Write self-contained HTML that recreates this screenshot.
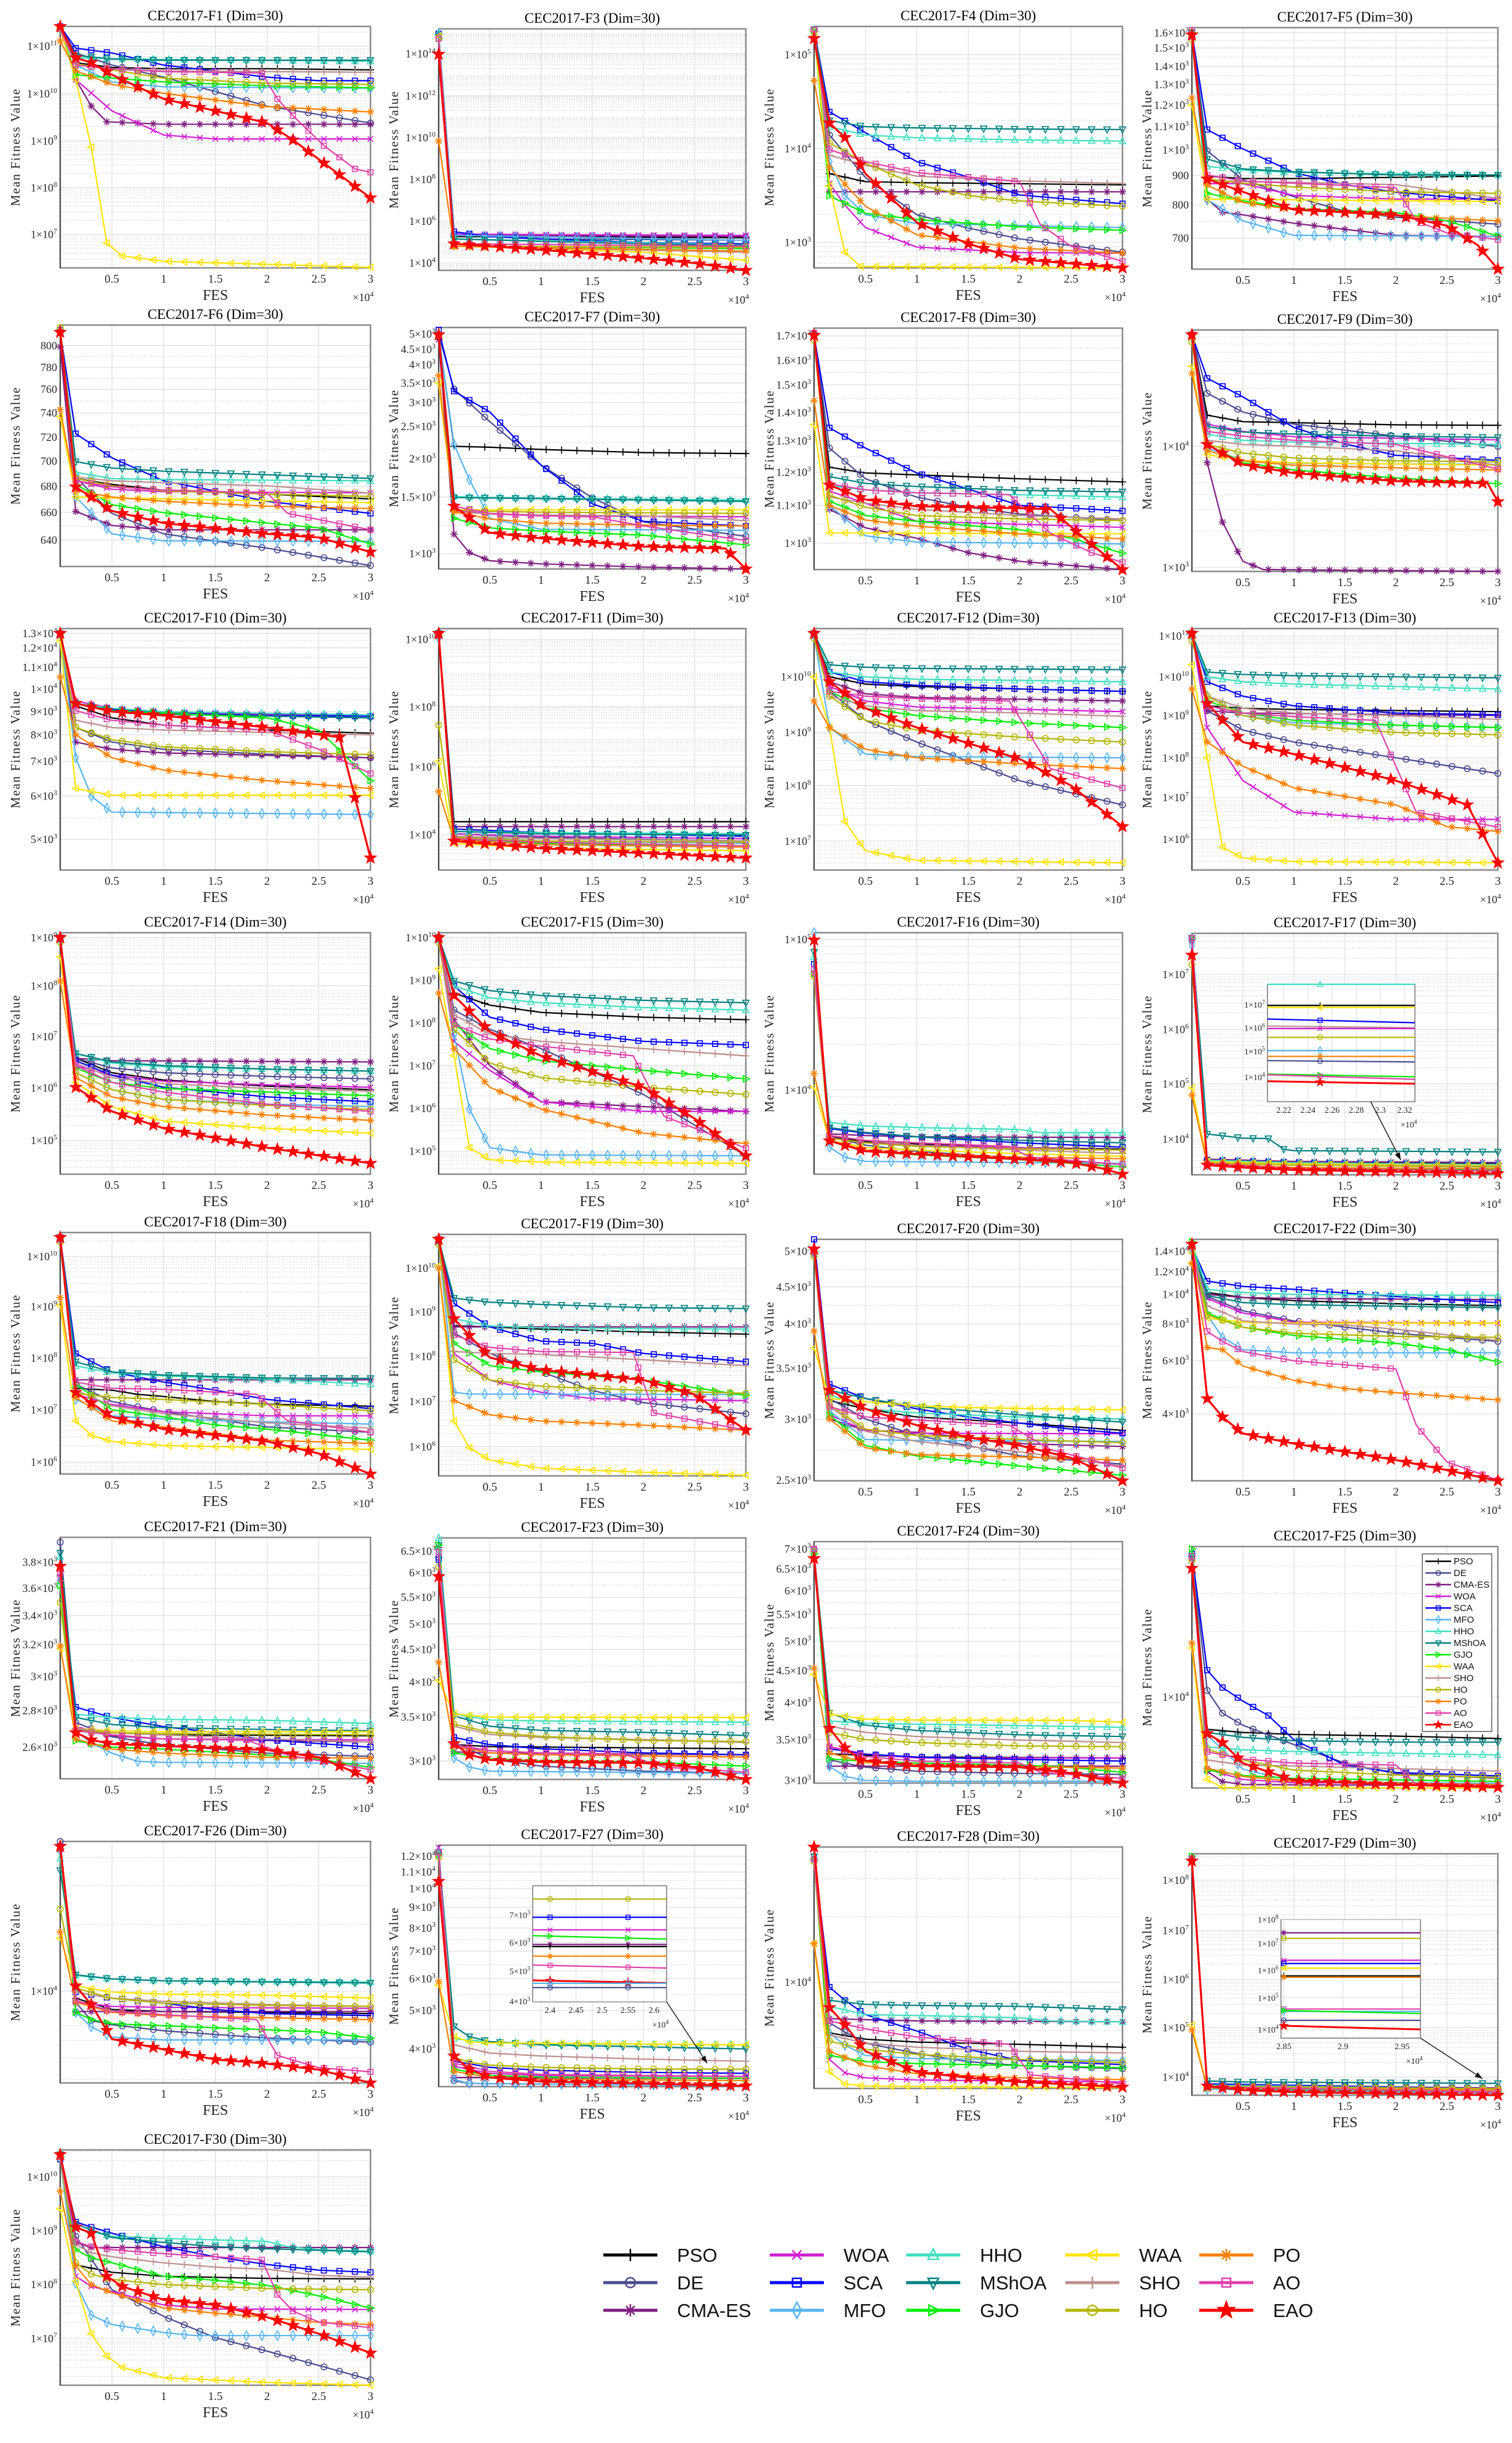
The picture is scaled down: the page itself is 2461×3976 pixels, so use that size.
<!DOCTYPE html>
<html><head><meta charset="utf-8"><title>CEC2017 convergence curves</title>
<style>
html,body{margin:0;padding:0;background:#fff;}
svg{display:block;}
</style></head>
<body>
<svg id="fig" xmlns="http://www.w3.org/2000/svg" width="2461" height="3976" viewBox="0 0 2461 3976">
<rect x="0" y="0" width="2461" height="3976" fill="#ffffff"/>
</svg>
<script>
// ---------- series definitions ----------
const seriesNames = ['PSO','DE','CMA-ES','WOA','SCA','MFO','HHO','MShOA','GJO','WAA','SHO','HO','PO','AO','EAO'];
const seriesColors = ['#000000','#4b4b8f','#7e1e80','#d21fd2','#0000ff','#56b4f0','#3fe0c0','#008080','#00ee00','#ffe400','#bc8f8f','#b5b500','#ff8000','#e040a8','#ff0000'];
const seriesMarkers = ['+','o','*','x','s','d','^','v','>','<','+','o','*','s','p'];

// ---------- plots ----------
const plotTitles = ['CEC2017-F1 (Dim=30)','CEC2017-F3 (Dim=30)','CEC2017-F4 (Dim=30)','CEC2017-F5 (Dim=30)',
'CEC2017-F6 (Dim=30)','CEC2017-F7 (Dim=30)','CEC2017-F8 (Dim=30)','CEC2017-F9 (Dim=30)',
'CEC2017-F10 (Dim=30)','CEC2017-F11 (Dim=30)','CEC2017-F12 (Dim=30)','CEC2017-F13 (Dim=30)',
'CEC2017-F14 (Dim=30)','CEC2017-F15 (Dim=30)','CEC2017-F16 (Dim=30)','CEC2017-F17 (Dim=30)',
'CEC2017-F18 (Dim=30)','CEC2017-F19 (Dim=30)','CEC2017-F20 (Dim=30)','CEC2017-F22 (Dim=30)',
'CEC2017-F21 (Dim=30)','CEC2017-F23 (Dim=30)','CEC2017-F24 (Dim=30)','CEC2017-F25 (Dim=30)',
'CEC2017-F26 (Dim=30)','CEC2017-F27 (Dim=30)','CEC2017-F28 (Dim=30)','CEC2017-F29 (Dim=30)',
'CEC2017-F30 (Dim=30)'];

// x axis: FES (x10^4)
const xTickValues = [0.5,1,1.5,2,2.5,3];
const xTickLabels = ['0.5','1','1.5','2','2.5','3'];

// y axis: tick values on normalized log-level scale (0 = axis bottom, 100 = axis top)
const yTickLevels = [
[91.8,72.1,52.6,33.2,13.9],[89.7,72.3,55,37.6,20.3,3],[88.3,49.4,10.6],[97.9,91.6,84,76.4,68,59,49.4,38.8,26.6,12.8],
[91.5,82.5,73.4,63.6,53.5,43.6,33.2,22.4,11],[97.3,91,84.6,77,68.9,59,45.7,29.8,6.3],[96.8,86.6,76.5,65,53.3,40.3,26.6,11],[51.8,1.7],
[98,92,84,75,65.6,56,45,30.6,12.7],[95.5,67.5,42.7,14.6],[80,57,35,12],[97,80,64,46.5,30,12.7],
[98,78,57,35.7,14],[98,80.3,62.6,44.9,27.2,9.5],[97.2,34.9],[83,60.2,37.6,14.8],
[90.1,69.4,48.1,26.6,5],[86,68,49.5,30.8,12.1],[95,80.3,65,46.6,25.4,0.2],[95,86.6,77.2,65,49.7,27.7],
[89.7,78.9,67.6,55.6,42.4,28.2,13.1],[94.5,85.6,75.4,64.4,53.8,40.3,25.8,7.6],[97,88.7,79.6,69.9,58.7,46.6,33.3,18,1.1],[37.7],
[38],[95.4,88.9,82,74.3,65.7,56.1,44.7,31.5,15.6],[44],[89,68.2,48,28,7.5],
[88.5,65.7,42.8,19.9]];
const yTickLabels = [
['1×10^11','1×10^10','1×10^9','1×10^8','1×10^7'],['1×10^14','1×10^12','1×10^10','1×10^8','1×10^6','1×10^4'],['1×10^5','1×10^4','1×10^3'],['1.6×10^3','1.5×10^3','1.4×10^3','1.3×10^3','1.2×10^3','1.1×10^3','1×10^3','900','800','700'],
['800','780','760','740','720','700','680','660','640'],['5×10^3','4.5×10^3','4×10^3','3.5×10^3','3×10^3','2.5×10^3','2×10^3','1.5×10^3','1×10^3'],['1.7×10^3','1.6×10^3','1.5×10^3','1.4×10^3','1.3×10^3','1.2×10^3','1.1×10^3','1×10^3'],['1×10^4','1×10^3'],
['1.3×10^4','1.2×10^4','1.1×10^4','1×10^4','9×10^3','8×10^3','7×10^3','6×10^3','5×10^3'],['1×10^10','1×10^8','1×10^6','1×10^4'],['1×10^10','1×10^9','1×10^8','1×10^7'],['1×10^11','1×10^10','1×10^9','1×10^8','1×10^7','1×10^6'],
['1×10^9','1×10^8','1×10^7','1×10^6','1×10^5'],['1×10^10','1×10^9','1×10^8','1×10^7','1×10^6','1×10^5'],['1×10^5','1×10^4'],['1×10^7','1×10^6','1×10^5','1×10^4'],
['1×10^10','1×10^9','1×10^8','1×10^7','1×10^6'],['1×10^10','1×10^9','1×10^8','1×10^7','1×10^6'],['5×10^3','4.5×10^3','4×10^3','3.5×10^3','3×10^3','2.5×10^3'],['1.4×10^4','1.2×10^4','1×10^4','8×10^3','6×10^3','4×10^3'],
['3.8×10^3','3.6×10^3','3.4×10^3','3.2×10^3','3×10^3','2.8×10^3','2.6×10^3'],['6.5×10^3','6×10^3','5.5×10^3','5×10^3','4.5×10^3','4×10^3','3.5×10^3','3×10^3'],['7×10^3','6.5×10^3','6×10^3','5.5×10^3','5×10^3','4.5×10^3','4×10^3','3.5×10^3','3×10^3'],['1×10^4'],
['1×10^4'],['1.2×10^4','1.1×10^4','1×10^4','9×10^3','8×10^3','7×10^3','6×10^3','5×10^3','4×10^3'],['1×10^4'],['1×10^8','1×10^7','1×10^6','1×10^5','1×10^4'],
['1×10^10','1×10^9','1×10^8','1×10^7']];
// levels per decade (0 = non-decade axis)
const decadeSpan = [19.5,8.7,38.9,0, 0,0,0,50.1, 0,13.6,22.7,16.9, 21,17.7,62.3,22.7, 21.2,18.5,0,0, 0,0,0,90, 91.8,0,89.8,20.4, 22.9];

// curves: "FES(x10^4):level" pairs, series order = seriesNames
const curves = [
[ // F1
"0:100 .15:85 .5:83 1:82.5 2:82.5 3:82","0:100 .15:89 .5:84 1:79 2:67 3:60","0:99 .15:78 .3:67 .45:60.5 1:59.5 3:59.5","0:99 .15:78 .5:65 1:55 1.5:53.4 3:53.4","0:100 .15:91 .5:89 1:84 2:79 2.5:77.5 3:77.5","0:99 .15:84 .5:77 1:75 3:74.4","0:99 .15:87 .5:86.7 1:86.3 3:85.6","0:99 .15:88 .5:86.5 1:86 3:86","0:99 .15:80 .5:78.6 1:77 2:75.4 3:74.6","0:99 .15:78 .3:50 .45:10.3 .6:5 1:2.7 2:1.5 3:0.2","0:99 .15:84.5 .5:82.4 1:81.6 3:81","0:99 .15:84.5 .5:82 1:78.6 2:76.5 3:76","0:94 .15:81.6 .5:76 1:72.3 2:66.8 3:64.6","0:99 .15:84 .5:82.4 1:81.3 1.95:80.7 2.1:70 2.25:63 2.55:50.6 2.85:41 3:39.6","0:100 .15:87 .3:85 .5:80 1:70 1.5:65 2:60 2.25:53 2.5:45 2.75:37 3:29"],
[ // F3
"0:98 .15:14 3:13.5","0:98 .15:15 1:13 3:12.5","0:97 .15:14.5 3:14","0:97 .15:15 3:14.5","0:98 .15:16 .5:14 1:13 2:11.5 3:11","0:98 .15:14.5 3:12.5","0:98 .15:13 3:10.5","0:97 .15:13 1:12 2:11 3:10.3","0:96 .15:11 .5:10 3:9","0:97 .15:10 1:9 2:7.5 3:4.2","0:97 .15:10 3:7.5","0:96 .15:10 3:9.5","0:53.5 .15:10 3:8","0:96 .15:11 3:10","0:89.5 .15:11 .5:10 1:8.5 2:5 2.5:3 3:0"],
[ // F4
"0:98.7 .15:39 .5:35.7 1:35.3 3:34.4","0:98.7 .15:55 .5:37.4 1:22 1.5:16.5 2:12 3:6.5","0:98.7 .15:31.5 3:31.5","0:98.7 .15:35 .3:26 .5:16.7 1:8.6 2:6.3 3:6.1","0:98.7 .15:64.6 .5:56 1:44 1.5:37.6 2:30.2 3:26.6","0:98 .15:44 .3:30 .5:22 1:18.4 3:16.7","0:98.7 .15:58.5 .5:55 1:53.9 2:53 3:52.5","0:98.7 .15:61 .5:58.5 1:58 2:57.5 3:57.3","0:98 .15:29.8 .5:22.6 1:20 2:17 3:15.6","0:98 .15:34 .3:6.5 .45:0.6 3:0","0:98 .15:46.7 .5:42.5 1:38 2:36 3:35","0:96 .15:51.8 .5:43.3 1:34.4 1.5:30 2:27.7 3:25.5","0:77.6 .15:41.6 .5:25.5 1:13.7 2:8.2 3:6.1","0:98.7 .15:49 .5:44 1:39.5 2:35.7 2.2:18 2.5:9 3:2.7","0:95 .15:60 .3:54 .5:39 1:18.8 1.5:10 2:3.6 3:0"],
[ // F5
"0:98 .15:38.5 .5:37.5 1:37.5 2:38 3:38.6","0:98 .15:49 .5:37 1:30 1.5:24 2:21.5 3:18.6","0:96 .15:29 .3:23.5 .5:22.5 1:19 2:14 3:13.5","0:97 .15:35.4 .5:35.4 1:30.5 2:29 3:29","0:98 .15:57.8 .5:49.8 1:40 1.5:35 2:31.8 3:28.3","0:97 .15:28.7 .5:20 1:14 3:13.5","0:98 .15:42.6 .5:41 1:40 2:39.5 3:39","0:98 .15:45.6 .5:41.5 1:40.3 2:39 3:39","0:98 .15:31.4 .5:28.3 1:25 2:23.4 2.5:20 3:13.7","0:68 .15:29 3:28","0:97 .15:36.7 .5:36.3 1:35.9 2:35 3:29.3","0:95 .15:37.3 .5:35.6 1:34 2:32 3:31.4","0:70.9 .15:34.8 .5:27.6 1:24.6 2:22.1 3:20","0:99 .15:39 .5:36.5 1:35.6 2:33.7 2.2:20 2.5:15 3:12.2","0:97 .15:37.3 .5:32 1:24.6 2:22.5 2.5:18 2.8:10 3:0"],
[ // F6
"0:98 .15:36.4 .5:34 1:31.6 2:30 3:28","0:98 .15:37 .5:22 1:13.5 2:7.6 3:0.4","0:91 .15:22.8 .5:17 1:15.2 3:15.2","0:97 .15:35.5 .5:32 1:31 3:30.5","0:97 .15:55 .5:45 1:35.5 2:27 3:22","0:97 .15:28.8 .5:13.5 1:10.6 3:10.4","0:97 .15:39 .5:36.4 1:36 3:35.5","0:97 .15:43.4 .5:40.8 1:39.5 2:38 3:36.5","0:97 .15:34 .5:25.6 1:22.3 2:18 2.5:16 3:9.3","0:62 .15:28.8 .5:28.4 3:26.4","0:97 .15:37 .5:35.5 1:34.7 2:33.4 3:30.4","0:99 .15:36.4 .5:33.4 1:31.3 2:30 3:29","0:65 .15:31.4 .5:28.8 1:27 2:25 3:24","0:97 .15:35.5 .5:33 1:31.7 2:30.4 2.2:22 3:15.2","0:97 .15:33 .5:23 1:18 2:13.5 2.5:12 3:6"],
[ // F7
"0:97 .15:50.8 .5:50.4 1:49.5 2:48.2 3:47.8","0:97 .15:74.5 .5:61 1:43 1.5:29.5 2:19.5 3:13.5","0:95 .15:14.4 .3:6.8 .5:3.4 1:2.1 2:0.8 3:0","0:97 .15:24.5 .5:22.8 1:22 3:21.6","0:99 .15:73.6 .5:65 1:43 1.5:27 2:19.7 3:17.8","0:97 .15:51.6 .3:37 .5:21 1:16.4 3:16","0:97 .15:30 .5:29.6 3:28.5","0:97 .15:29.6 3:28","0:97 .15:21 .5:17 1:15.7 2:14 3:10","0:77 .15:24.5 3:24.5","0:97 .15:23.7 .5:22.8 1:22.4 2:22 3:20","0:97 .15:24.5 .5:23.9 1:23.5 3:23","0:80 .15:23.7 .5:20.7 1:19 2:18.2 3:17.8","0:97 .15:26 .5:23 1:22 1.5:21.6 2:17.8 3:11.8","0:97 .15:26 .5:15 1:12.7 2:9.3 2.8:8.5 3:0"],
[ // F8
"0:97 .15:42.4 .5:40 1:39.2 2:37.6 3:36.3","0:97 .15:50.3 .5:37.6 1:30 1.5:25.8 2:23 3:20.3","0:98 .15:25 .5:17.3 1:13 1.5:7 2:3.4 3:0","0:97 .15:32.5 .5:27.5 1:20 3:17.5","0:97 .15:58.7 .5:50.3 1:40 1.5:33.3 2:26.6 3:24.3","0:97 .15:26.6 .5:14 1:11.4 3:10.6","0:97 .15:34.7 .5:33 1:31.8 2:31 3:30","0:97 .15:38.5 .5:35.7 1:34.4 2:32.8 3:32.2","0:97 .15:28.3 .5:22.4 1:20 2:16.5 2.5:13 3:6.8","0:60 .15:15.2 3:14.8","0:97 .15:30 .5:27.5 1:25 2:22.4 3:21","0:95 .15:30.8 .5:25.8 1:22.4 2:21 3:20.3","0:70 .15:26.6 .5:20.5 1:18 2:14.8 3:12.7","0:98 .15:35.5 .5:33 1:31.8 1.9:31 2.3:15 2.7:7 3:3","0:97 .15:35 .5:29 1:26.2 2:25.4 2.3:25 2.6:14 3:0"],
[ // F9
"0:98 .15:64.7 .5:62 1:61.6 2:60.7 3:60.5","0:98 .15:73.8 .5:66 1:61 2:56 3:51.8","0:98 .15:45 .3:20.4 .5:4.2 .7:0.8 3:0","0:98 .15:61 .5:58 1:55.8 3:54.5","0:98 .15:80 .5:72.3 1:59.6 1.5:52.8 2:48.1 3:46","0:98 .15:51 .5:46 1:44.8 3:44.3","0:98 .15:56.9 .5:54.3 1:53.5 3:52.6","0:98 .15:60 .5:57.7 1:56.9 2:56 3:55.5","0:98 .15:52.6 .5:45 1:42 2:38.7 3:36.3","0:85 .15:48.4 .5:46 1:45 3:44","0:98 .15:54.3 .5:52.6 1:51.8 2:50 3:44","0:95 .15:52.6 .5:49 1:47 2:45.8 3:45.4","0:82 .15:50 .5:45.8 1:44 2:42.9 3:42","0:98 .15:58 .5:56 1:54.3 2:52.6 3:42.4","0:98 .15:52.6 .5:44.3 1:40.7 2:37.4 2.9:36.5 3:28.9"],
[ // F10
"0:98 .15:68 .5:63 1:60 2:58 3:56.7","0:98 .15:59 .5:53 1:50 2:48 3:46.5","0:97 .15:53 .5:50 1:48.5 3:46.5","0:98 .15:70 .5:67 1:65.6 2:64.5 3:63.7","0:98 .15:69 .5:66.5 1:65 2:64 3:63.7","0:98 .15:46.5 .3:30.6 .5:24 3:23","0:98 .15:69 .5:67 1:65.6 3:64.3","0:98 .15:69 .5:66 1:64.5 3:63","0:98 .15:69 .5:66 1:65 2:63 2.5:58 3:37","0:95 .15:33.8 .5:31 3:31","0:98 .15:62 .5:59 1:58 3:56","0:98 .15:59 .5:54 1:51 2:49 3:47.8","0:80 .15:56 .5:46.5 1:41.4 2:37 3:33.8","0:98 .15:66 .5:62 1:60 2:58 2.5:50 3:40","0:98 .15:69 .5:65.6 1:64 2:59 2.7:55 3:5"],
[ // F11
"0:98 .15:20 3:20","0:98 .15:15 1:13.5 3:12","0:97 .15:18 3:18","0:97 .15:15 1:14 3:13","0:98 .15:17 1:15.5 3:14","0:96 .15:14 1:12 3:11","0:98 .15:16 1:15.5 3:15","0:98 .15:16 1:15 3:14.5","0:97 .15:13 1:11 3:10","0:45 .15:11 1:9 3:8","0:97 .15:14 1:13 3:12","0:60 .15:13.5 1:12 3:11.5","0:32.5 .15:12.5 1:10.5 3:9.5","0:97 .15:13 1:11.5 3:10","0:98 .15:12 1:9 2:7 3:5"],
[ // F12
"0:98 .15:80 .5:77 1:76 2:75 3:74","0:98 .15:74 .5:62 1:53 2:37 3:27","0:97 .15:78 .5:73 1:71.5 3:70","0:98 .15:76 .5:70 1:67.5 3:65.6","0:98 .15:82 .5:78 1:76.5 2:75 3:74","0:97 .15:59 .5:48 1:47 3:46.5","0:98 .15:82 .5:80 1:79 3:78","0:98 .15:85 .5:84 1:83.5 3:83","0:98 .15:74 .5:67 1:64 2:61 3:59","0:80 .15:59 .3:20 .5:8 1:4 3:3","0:98 .15:72 .5:68 1:66 2:65 3:63.7","0:96 .15:72 .5:62 1:58 2:55 3:53","0:70 .15:59 .5:50 1:46.5 2:44 3:42","0:98 .15:74 .5:72 1:71 1.9:70 2.3:42 3:34","0:98 .15:78 .5:67 1:59 2:46 2.5:35 3:18"],
[ // F13
"0:98 .15:68 .5:67 1:66.5 3:65.6","0:98 .15:66 .5:58 1:53 2:46.5 3:40","0:97 .15:66 .5:65 3:64","0:98 .15:59 .5:37 1:24 2:21 3:21","0:98 .15:78 .5:72 1:68 2:65 3:64.3","0:97 .15:72 .5:64 1:61 3:59","0:98 .15:80 .5:78 1:77 3:75","0:98 .15:82 .5:81 1:80.5 3:79.6","0:98 .15:70 .5:65 1:62 2:60 3:59","0:85 .15:46.5 .3:9.5 .5:5 1:3.5 3:3","0:98 .15:72 .5:67 1:65 2:64 3:62.4","0:95 .15:72 .5:64 1:60 2:57 3:56","0:75 .15:53 .5:43 1:34 2:27 2.5:18 3:16","0:98 .15:68 .5:65 1:63.5 1.8:62 2.2:24 3:17.8","0:98 .15:69 .5:53 1:48 2:37 2.7:27 3:3"],
[ // F14
"0:98 .15:48 .5:42 1:39 2:36.5 3:35","0:98 .15:48 .5:44 1:42 2:40.5 3:39.5","0:97 .15:48 .5:47 3:46.5","0:98 .15:45 .5:41 1:38.5 2:37 3:36","0:98 .15:47 .5:41 1:36 2:32 3:30","0:97 .15:42 .5:35 1:31 2:29 3:28","0:98 .15:50 .5:46 1:44.5 2:43.5 3:42.7","0:98 .15:50 .5:46.5 1:45 2:43.5 3:42.7","0:98 .15:44 .5:38 1:35.5 2:34 3:32.5","0:90 .15:38 .5:28 1:22 2:19 3:17","0:98 .15:46 .5:40 1:37.5 2:35.5 3:34.4","0:96 .15:42 .5:35 1:31 2:28.5 3:26.8","0:80 .15:40 .5:32 1:28 2:24.5 3:22.3","0:98 .15:45 .5:38 1:34 2:29 3:26","0:98 .15:36 .5:26 1:19 2:11 3:4.5"],
[ // F15
"0:98 .15:75 .5:70 1:67 2:65 3:64","0:98 .15:68 .5:60 1:52 2:33 3:7.6","0:97 .15:64 .5:45 1:30 3:26","0:98 .15:55 .5:43 1:30 2:26 3:26","0:98 .15:78 .5:65 1:60 2:55 3:53.5","0:97 .15:58 .3:27 .5:11 1:8 3:7.6","0:98 .15:78 .5:73 1:71 2:69 3:68","0:98 .15:80 .5:76 1:74 2:72 3:71","0:98 .15:62 .5:52 1:47 2:43 3:39.5","0:85 .15:49 .3:11 .5:6 1:5 3:4.5","0:98 .15:66 .5:58 1:55 2:52 3:49","0:96 .15:60 .5:46 1:40 2:36 3:33","0:75 .15:52 .5:36 1:27 2:17 3:12.7","0:98 .15:62 .5:56 1:53 1.9:49 2.2:24 3:10.8","0:98 .15:74 .5:59 1:49 2:36 2.5:23 3:7.6"],
[ // F16
"0:83 .15:15.5 .5:13.5 1:12.5 2:11 3:10.4","0:83 .15:15.5 .5:12 1:9.5 2:6.5 3:4","0:83 .15:16.7 .5:16 1:15.5 3:15.2","0:83 .15:15 .5:13 1:12 2:11 3:10","0:87 .15:18.9 .5:17 1:15.5 2:13 3:11.2","0:100 .15:11.2 .3:7 .5:5.3 3:4.5","0:90 .15:21.4 .5:20 1:19.3 2:18.5 2.2:17.2 3:17.2","0:92 .15:19.3 .5:17.3 1:15.5 2:14 3:13","0:83 .15:14.5 .5:9.5 1:8 2:6 2.5:4.5 3:3","0:36 .15:14 .5:11 1:10 2:8.5 3:7.4","0:83 .15:16 .5:14 1:12 2:10 3:8.6","0:82 .15:15 .5:13 1:11.5 2:10.5 3:10","0:41.7 .15:14 .5:10 1:8.5 2:7 3:6.4","0:85 .15:16 .5:14 1:13 1.9:11.5 2.1:7 3:4","0:97 .15:13.8 .5:9.5 1:8.3 2:6.2 2.5:4.8 2.8:2.4 3:0"],
[ // F17
"0:98 .15:6 1:5 3:4.5","0:98 .15:4.5 1:3 3:2.2","0:97 .15:6.5 1:5.5 3:5.1","0:98 .15:5 1:4 3:3.4","0:98 .15:6 1:5 3:4","0:95 .15:4 .5:3 3:2.5","0:98 .15:6 1:5 3:4.2","0:98 .15:16.9 .5:15.2 .75:15 .9:10.6 1:10 3:9.5","0:98 .15:4 1:2.5 3:1.8","0:36 .15:5.5 1:4.5 3:3.8","0:98 .15:5 1:4 3:3.5","0:87 .15:5 1:4 3:3.2","0:33 .15:4.5 1:3 3:2.5","0:98 .15:4.5 1:2.5 3:1.6","0:91 .15:4 .5:3 1:2 2:1.3 3:0.5"],
[ // F18
"0:98 .15:35.5 .5:34.7 .75:33 1:32.1 1.5:30 2:28.9 3:28.1","0:98 .15:37.2 .5:30 1:25.8 2:19.5 3:17.3","0:97 .15:39 3:39","0:98 .15:33 .5:28.8 1:25.8 2:24.1 3:24.1","0:98 .15:49.9 .5:42.3 1:38.1 1.5:34.7 2:30.9 3:27.1","0:97 .15:30.9 .5:24.1 1:22.8 2:21.6 3:20.7","0:98 .15:44.8 .5:41.9 1:40.6 2:39.3 3:37.2","0:98 .15:46.5 .5:42.3 1:41 2:39.8 3:39.6","0:98 .15:37.2 .5:26.6 1:23.7 1.5:20.3 2:18.6 3:14","0:70 .15:22 .3:16.1 .5:13.5 1:11.8 2:11 3:10.2","0:98 .15:34.7 .5:28.3 1:25 2:21.2 3:19","0:96 .15:33.4 .5:31.7 1:30.9 2:28.8 3:26.2","0:73 .15:31.7 .5:22 1:19.5 2:14 3:12.7","0:98 .15:38.1 .5:35.5 1:35.1 1.9:33 2.2:22 3:17.3","0:98 .15:33.8 .5:23.7 1:18.6 1.5:16.1 2:13.5 2.5:8.5 3:0"],
[ // F19
"0:98 .15:62.1 .5:61.7 1:60.8 2:59.6 3:58.7","0:98 .15:59.2 .5:50.7 1:43.1 1.5:35.4 2:30.3 3:25.7","0:97 .15:61.7 3:61.7","0:98 .15:50.7 .5:39.7 1:34.6 1.5:32 3:31.2","0:98 .15:71.4 .5:61.7 1:55.8 1.5:54.9 2:50.7 3:47.3","0:97 .15:34.6 .3:33.9 3:33.7","0:98 .15:65.1 .5:62.1 1:61.3 3:60.8","0:98 .15:73.6 .5:71.9 1:71 2:69.7 3:69.3","0:98 .15:54.9 .5:45.6 1:43.1 1.5:41.4 2:39.7 3:33.3","0:87 .15:22.7 .3:11.7 .5:6.6 1:3.2 2:1.5 3:0.2","0:98 .15:51.5 .5:50.7 1:50.3 2:48.1 3:45.6","0:96 .15:48.1 .5:39.7 1:37.1 2:35.4 3:34.2","0:86 .15:31.2 .5:25.3 1:22.7 2:21 3:18.9","0:98 .15:58.3 .5:53.2 1:51.5 1.9:51.1 2.1:26.1 3:18.9","0:98 .15:65.1 .5:49 1:43.9 2:39.7 2.5:33.7 3:18.9"],
[ // F20
"0:95 .15:33.2 .5:29.8 1:26.4 2:23.9 3:20.9","0:95 .15:34.1 .5:25.6 1:18.8 2:10.3 3:6.9","0:94 .15:25.6 .5:20.9 1:20.1 2:15.4 3:14.2","0:95 .15:27.3 .5:20.9 1:19.7 3:19.5","0:100 .15:40 .5:34.1 1:29.8 1.5:26.4 2:23.9 2.5:21.4 3:19.7","0:94 .15:29 .5:17.1 1:16.7 3:16.3","0:95 .15:35.8 .5:29.8 1:28.1 2:26.4 3:25.6","0:95 .15:37.5 .5:34.1 1:30.7 2:27.3 3:24.3","0:95 .15:27.3 .5:14.6 1:10.3 2:6.1 3:2.3","0:55 .15:34.1 .5:32.8 1:31.1 1.5:30.3 3:29.4","0:95 .15:30.7 .5:20.5 1:16.3 2:12 3:6.1","0:93 .15:31.5 .5:21.4 1:18.8 2:17.1 3:15.8","0:62 .15:25.6 .5:13.7 1:10.8 2:9.9 3:8.5","0:95 .15:30.7 .5:26.4 1:25.2 1.9:23 2.3:12.9 3:5.3","0:96 .15:37.5 .5:29.8 1:23 1.5:18 2:14.6 2.5:9.5 3:0"],
[ // F22
"0:97 .15:78 .5:75.9 1:74.6 2:73.3 3:72.5","0:97 .15:76.3 .5:70.4 1:66.2 2:61.1 3:57.7","0:97 .15:77.2 .5:75.9 1:75.5 3:75","0:97 .15:75.5 .5:69.5 1:65.7 3:65.3","0:97 .15:82.7 .5:80.5 1:79.3 2:76.3 3:73.8","0:96 .15:68.7 .3:59.4 .5:54.3 1:53 3:53","0:98 .15:79.3 .5:78 1:77.2 3:76.7","0:97 .15:76.7 .5:73.8 1:72.9 3:71.7","0:99 .15:69.5 .5:63.6 1:60.2 2:56.9 2.5:54.3 3:49.2","0:90 .15:67.4 .5:65.7 1:65.3 3:65.3","0:97 .15:72.5 .5:66.2 1:64.9 1.5:64.5 2:62.8 3:58.1","0:95 .15:68.7 .5:63.6 1:61.1 2:59.8 3:59.4","0:90 .15:55.2 .3:54.3 .5:47.5 1:41.6 1.5:38.2 2:36.5 3:33.5","0:97 .15:61.9 .3:57.7 .5:53.5 1:49.7 1.9:46.7 2:46.3 2.2:23 2.5:7.8 3:0.3","0:98 .15:34 .3:26.4 .5:19.6 1:15.4 1.5:12 2:8.6 2.5:4.4 3:0"],
[ // F21
"0:84 .15:20.8 .5:19.1 1:18.2 3:17.8","0:98 .15:23.3 .5:17.4 1:14 2:10.6 3:9.3","0:82 .15:20.8 .5:17.8 1:16.5 3:15.3","0:84 .15:21.6 .5:18.2 1:16.5 3:16.1","0:85 .15:29.7 .5:25.4 1:21.6 1.5:19.1 2:16.1 3:13.1","0:82 .15:19.9 .3:14.8 .5:10.6 .75:7.2 1:6.8 3:6.4","0:92 .15:26.7 .5:25.4 1:24.6 2:24.2 3:22.9","0:93.5 .15:25.4 .5:22.5 1:21.2 2:20.4 3:19.9","0:80 .15:15.7 .5:13.1 1:12.3 2:9.8 2.5:8.1 3:4.7","0:54 .15:20.8 .5:19.9 1:19.5 3:19.5","0:82 .15:20.8 .5:19.1 1:18.2 2:16.5 3:15.3","0:73 .15:19.9 .5:19.1 1:18.7 3:18.2","0:55 .15:16.5 .5:12.3 1:10.6 2:8.9 3:8.5","0:85 .15:19.9 .5:18.2 1:16.5 1.8:16.1 2.2:9.8 3:3.8","0:88 .15:19.1 .3:16.1 .5:14.4 1:13.6 2:11.9 2.5:8.9 3:0"],
[ // F23
"0:96 .15:14.4 .5:13.6 3:12.7","0:92 .15:15.3 .5:8.5 1:5.5 2:3.4 3:2.5","0:96 .15:11.4 .5:11 3:10.2","0:96 .15:13.6 .5:11.9 1:11 2:9.7 3:9.3","0:91 .15:17.4 .5:14.4 1:12.7 2:11 3:10.2","0:95 .15:8.9 .3:5.1 .5:3.4 3:2.5","0:100 .15:27.1 .5:24.6 1:24.2 3:23.7","0:97 .15:26.3 .5:22 1:20.3 2:19.5 3:18.2","0:97 .15:11 .5:8.5 1:7.6 2:7.2 3:5.5","0:41 .15:27.1 .5:25.8 3:25.6","0:95 .15:22 .5:18.6 1:17.4 2:16.5 3:15.3","0:88 .15:22.9 .5:19.5 1:17.8 2:16.1 3:15.7","0:48.5 .15:13.6 .5:11 1:10.2 3:9.3","0:94 .15:14.4 .5:11.9 1:11 1.8:10.6 2.2:5.1 3:3","0:84 .15:14.8 .3:10.2 .5:8.1 1:7.2 2:6.8 2.5:5.1 3:0"],
[ // F24
"0:96 .15:12.1 .5:11.5 1:10.8 3:10.4","0:96 .15:9.6 .5:6.6 1:4.9 2:4 3:3.6","0:96 .15:7 3:7","0:97 .15:15.1 .5:12 1:10.4 3:10.4","0:96 .15:14.2 .5:12 1:10.8 2:9.8 3:9.1","0:95 .15:7 .3:2.8 .5:1.1 1:0.7 3:0.7","0:96 .15:25.7 .5:24.8 1:24.4 2:23.8 3:23.1","0:96 .15:29 .5:24 1:21.8 2:20 3:19.3","0:95 .15:10 .5:9 1:8.3 2:7.5 2.5:6.5 3:4.5","0:45 .15:28.6 .5:26.5 1:26.1 2.5:26 3:25.2","0:96 .15:23.5 .5:21 1:19.3 2:17.8 3:16.8","0:96 .15:21 .5:18 1:16.8 2:15.4 3:15.1","0:47.6 .15:12.5 .5:8.5 1:7.5 2:6.8 3:6.2","0:97 .15:15.1 .5:11 1:9.1 2:8.3 2.2:4.5 3:1.9","0:93 .15:22.7 .3:14.6 .45:9.6 1:7 2:6.6 2.5:4.1 3:0"],
[ // F25
"0:96 .15:24.3 .5:23 1:22.2 2:21.5 3:20.5","0:96 .15:40.4 .3:31 .5:26 1:18 1.5:10.3 2:6 3:4","0:95 .15:6.9 .3:2.7 .5:1.4 3:1","0:96 .15:7.8 .5:3.5 1:2.2 3:1.9","0:97 .15:48.8 .3:41.6 .5:36 .75:30 1:20 1.5:9.5 2:6.4 3:5","0:96 .15:22 .5:7.8 1:2.7 3:1.9","0:96 .15:17 .5:15.8 1:15.1 3:13.7","0:96 .15:23 .5:21 1:19.6 2:19 3:19","0:99 .15:7.4 .5:5.2 1:4 3:2.7","0:58 .15:3.5 .3:0.2 3:0","0:95 .15:11.6 .5:9.5 1:9.1 3:7","0:94 .15:16 .5:11.6 1:7.4 2:5.4 3:4.4","0:60 .15:8.2 .5:4.8 1:2.7 3:1.4","0:96 .15:15 .5:12 1:10.3 2:9.5 2.2:1.4 3:1","0:91 .15:22.6 .3:18.8 .5:10.3 1:3.1 2:1.4 3:0.3"],
[ // F26
"0:98 .15:35.1 .5:30.4 1:29.6 2:29.2 3:28.7","0:100 .15:33.4 .3:25.8 .5:24.1 1:21.6 2:18.6 3:16.9","0:97 .15:29.6 3:29.6","0:98 .15:33.4 .5:31.7 1:31.3 3:30.9","0:98 .15:37.6 .5:35.1 1:33 1.5:30.4 2:28.7 3:27.9","0:96 .15:29.2 .3:23.2 .5:19 1:17.8 3:17.8","0:93 .15:44.4 .5:43.1 1:42.3 3:41.8","0:88 .15:44.8 .5:43.1 1:42.3 2:41.8 3:41.4","0:97 .15:29.2 .3:26.2 .5:24.5 1:23.7 2:22 2.5:21.1 3:18.6","0:60 .15:40.2 .5:37.6 1:36.8 2:36.3 3:35.2","0:97 .15:37.6 .5:35.1 1:33.8 2:32.5 3:31.7","0:72 .15:39.3 .5:35.1 1:33 2:32.1 3:31.7","0:62.5 .15:33.4 .5:29.2 1:27.9 2:27 3:26.2","0:97 .15:34.2 .5:29.6 1:28.3 1.9:26.2 2.1:11.4 2.5:6.3 3:4.6","0:98 .15:40.2 .3:32.5 .5:18.2 1:13.9 1.5:9.7 2:8 2.5:5.5 3:0"],
[ // F27
"0:97 .15:3.8 3:3.4","0:97 .15:2.5 .3:1.3 3:0.4","0:97 .15:3.8 3:3.4","0:99 .15:8.4 .5:5.5 1:4.6 3:4.2","0:97 .15:10.5 .5:8 1:6.8 2:5.9 3:5.5","0:96 .15:3 .3:1.3 3:0.4","0:97 .15:19.8 .5:18.6 1:17.7 3:17.3","0:97 .15:24.9 .3:20.7 .5:18.6 1:17.3 2:16.5 3:15.6","0:96 .15:7.2 .5:4.6 1:4 3:3.4","0:42 .15:20.7 .3:18.6 .5:18.1 3:17.3","0:96 .15:17.3 .5:13.9 1:12.7 2:11.4 3:10.5","0:95 .15:12.2 .3:10.1 .5:8.9 1:8 2:7.3 3:7.2","0:43.5 .15:6.3 .5:3.8 1:3 3:2.5","0:97 .15:9.7 .5:6.3 1:5.1 3:4.2","0:85 .15:12.7 .3:7.2 .5:3.8 1:2.1 2:1.3 3:0.3"],
[ // F28
"0:95 .15:23 .5:20.4 1:19.2 2:18.3 3:17.1","0:95 .15:27.2 .3:23.4 .5:18.8 1:14.5 1.5:11.1 2:9.5 3:8.2","0:95 .15:28.9 .5:28.5 1:28 3:27.6","0:95 .15:12 .3:6.5 .5:4.4 1:3.5 3:2.7","0:96 .15:42 .3:36.5 .5:30.6 1:23.8 1.5:16.2 2:11.6 3:9.9","0:95 .15:23 .3:17.9 .5:13.7 1:12.4 3:11.6","0:95 .15:34 .5:30.6 1:30.2 2:29.3 2.3:28 3:27.6","0:96 .15:36.5 .5:34.8 1:34.4 2:34 3:32.7","0:95 .15:13.7 .5:11.1 1:10.3 2:9.5 3:8.6","0:60 .15:6.9 .3:1.9 .5:1 3:0.3","0:95 .15:22.1 .5:18.8 1:17.1 2:15.4 3:14.7","0:94 .15:19.6 .5:16.2 1:14.1 2:12 3:10.7","0:60 .15:15.4 .5:9.5 1:6.1 2:4.4 3:3.7","0:95 .15:28 .5:24.7 1:21.3 1.9:18.3 2.1:5.7 3:1.9","0:100 .15:33.5 .3:26.4 .5:15.4 1:6.9 1.5:4.4 2:2.7 3:0.6"],
[ // F29
"0:98 .15:3.8 3:2.5","0:98 .15:3.4 3:1.7","0:98 .15:4.2 3:3","0:98 .15:3.8 3:2.4","0:98 .15:4.7 3:2.7","0:97 .15:2.5 3:0.8","0:98 .15:4.2 3:2.5","0:98 .15:5.9 .5:5.5 3:4.9","0:99 .15:3 3:1.3","0:29 .15:3.2 3:2.1","0:98 .15:3.4 3:1.7","0:97 .15:3.8 3:2.7","0:27 .15:3 3:2.1","0:98 .15:3.4 3:1.3","0:97 .15:3.8 .5:2.1 1:1.3 3:0"],
[ // F30
"0:98 .15:51.1 .5:48 1:46.3 2:45.4 3:45.2","0:98 .15:63.3 .3:53.7 .5:40.6 1:29.3 1.5:20.2 2:14.5 2.5:8.4 3:2.3","0:98 .15:60.7 .3:58.5 3:58.5","0:98 .15:46.3 .3:42 .5:39.8 1:34.1 1.5:32.4 3:32.2","0:96 .15:69.4 .3:67.2 .5:64.6 1:58.9 1.5:54.6 2:51.3 2.5:48.9 3:48","0:97 .15:43.3 .3:29.8 .5:25.8 1:22.4 1.3:21.1 3:21.1","0:99 .15:66.8 .5:63.3 1:62.4 2:61.1 2.2:58.9 2.5:57.6 3:57","0:98 .15:68.5 .5:62.8 1:60.7 1.5:58.9 2:58 3:56.7","0:97 .15:57.6 .3:54.1 .5:52 1:46.3 1.5:44.6 2:42.4 2.5:38 3:32.8","0:75 .15:44.1 .3:21.9 .45:12.4 .6:7.6 1:3.2 2:1.2 3:0","0:97 .15:59.8 .3:56.3 .5:54.6 1:52 1.5:50.2 2:49.3 2.5:46.7 3:45.9","0:97 .15:52 .3:47.2 .5:45 1:42.8 2:41.1 3:40.6","0:82.4 .15:50.7 .3:42.8 .5:39.3 1:32.8 1.5:30.6 2:28.9 2.5:26.7 3:25.8","0:97 .15:61.1 .3:58.9 .5:57.6 1:55.9 1.5:54.6 1.95:53.3 2.1:38.5 2.25:31.5 2.5:26.9 3:24.5","0:98 .15:67.2 .3:64.6 .45:46.3 .6:42 1:36.3 1.5:34.1 2:28.9 2.5:21.9 3:13.7"]
];

// inset data: [seriesIndex, levelStart, levelEnd]
const inset17Series = [[6,100,100],[0,82,82],[9,80.3,80.3],[4,70.4,67.3],[10,64.5,63],[3,62.3,62.3],[11,54.8,54.8],[5,43.5,43.5],[12,38.6,38.6],[1,35,33.9],[8,23.5,21.2],[13,23,19],[14,17.4,15.3]];
const inset17TickLevels = [82.6,63,43,21];
const inset17TickLabels = ['1×10^7','1×10^6','1×10^5','1×10^4'];
const inset17XTicks = [2.22,2.24,2.26,2.28,2.3,2.32];
const inset27Series = [[11,88.5,88.5],[4,72.8,72.8],[3,62,62],[8,57,54],[2,49.4,49.4],[0,47.6,47.6],[12,39.3,39.3],[13,31.7,29.1],[14,18.5,16.2],[5,15.9,15.9],[1,12.3,12.3]];
const inset27TickLevels = [75,51.1,26.5,0.4];
const inset27TickLabels = ['7×10^3','6×10^3','5×10^3','4×10^3'];
const inset27XTicks = [2.4,2.45,2.5,2.55,2.6];
const inset29Series = [[2,88.8,88.8],[11,84.1,84.1],[3,65.6,65.6],[4,62.9,62.9],[9,59,59],[0,52.5,52.5],[12,51.3,51.3],[13,24.5,24.5],[5,22.5,22.5],[8,23.3,20.7],[1,15,15],[14,10.4,7.3]];
const inset29TickLevels = [100,79.8,57.3,34,7.3];
const inset29TickLabels = ['1×10^8','1×10^7','1×10^6','1×10^5','1×10^4'];
const inset29XTicks = [2.85,2.9,2.95];

// ---------- layout (not data) ----------
const colX = [98,714,1325,1940], colW = [505,500,502,498];
const plotTop = [43,47,43,45, 529,533,534,537, 1023,1023,1023,1023, 1518,1518,1518,1519, 2006,2009,2017,2017, 2502,2503,2509,2517, 2997,3003,3006,3017, 3499];
const plotH = 393;

const NS = 'http://www.w3.org/2000/svg';
const svg = document.getElementById('fig');
function mk(tag, parent){ const e = document.createElementNS(NS, tag); parent.appendChild(e); return e; }
function parseCurve(s){ return s.trim().split(/\s+/).map(p => p.split(':').map(Number)); }
function interp(pts, x){
  if (x <= pts[0][0]) return pts[0][1];
  for (let i=1;i<pts.length;i++){ if (x <= pts[i][0]) { const a=pts[i-1], b=pts[i]; return a[1] + (b[1]-a[1])*(x-a[0])/(b[0]-a[0]); } }
  return pts[pts.length-1][1];
}
function markerD(t, cx, cy, s){
  const f = v => v.toFixed(1);
  switch(t){
    case '+': return `M${f(cx-s)},${f(cy)}H${f(cx+s)}M${f(cx)},${f(cy-s)}V${f(cy+s)}`;
    case 'x': return `M${f(cx-s*.75)},${f(cy-s*.75)}L${f(cx+s*.75)},${f(cy+s*.75)}M${f(cx-s*.75)},${f(cy+s*.75)}L${f(cx+s*.75)},${f(cy-s*.75)}`;
    case '*': return `M${f(cx-s)},${f(cy)}H${f(cx+s)}M${f(cx)},${f(cy-s)}V${f(cy+s)}M${f(cx-s*.7)},${f(cy-s*.7)}L${f(cx+s*.7)},${f(cy+s*.7)}M${f(cx-s*.7)},${f(cy+s*.7)}L${f(cx+s*.7)},${f(cy-s*.7)}`;
    case 'o': { const r=s*.8; return `M${f(cx-r)},${f(cy)}a${r},${r} 0 1,0 ${2*r},0a${r},${r} 0 1,0 ${-2*r},0`; }
    case 's': { const r=s*.7; return `M${f(cx-r)},${f(cy-r)}h${2*r}v${2*r}h${-2*r}z`; }
    case 'd': return `M${f(cx)},${f(cy-s*1.3)}L${f(cx+s*.7)},${f(cy)}L${f(cx)},${f(cy+s*1.3)}L${f(cx-s*.7)},${f(cy)}z`;
    case '^': return `M${f(cx)},${f(cy-s)}L${f(cx+s*.85)},${f(cy+s*.7)}L${f(cx-s*.85)},${f(cy+s*.7)}z`;
    case 'v': return `M${f(cx)},${f(cy+s)}L${f(cx+s*.85)},${f(cy-s*.7)}L${f(cx-s*.85)},${f(cy-s*.7)}z`;
    case '>': return `M${f(cx+s)},${f(cy)}L${f(cx-s*.7)},${f(cy-s*.85)}L${f(cx-s*.7)},${f(cy+s*.85)}z`;
    case '<': return `M${f(cx-s)},${f(cy)}L${f(cx+s*.7)},${f(cy-s*.85)}L${f(cx+s*.7)},${f(cy+s*.85)}z`;
    case 'p': { let d=''; for(let k=0;k<10;k++){ const r = k%2===0 ? s*1.35 : s*.55; const a = -Math.PI/2 + k*Math.PI/5; d += (k===0?'M':'L') + f(cx+r*Math.cos(a)) + ',' + f(cy+r*Math.sin(a)); } return d+'z'; }
  }
  return '';
}
function labelText(parent, x, y, label, size, anchor){
  const t = mk('text', parent);
  t.setAttribute('x', x); t.setAttribute('y', y);
  t.setAttribute('font-family', '"Liberation Serif", serif');
  t.setAttribute('font-size', size);
  t.setAttribute('text-anchor', anchor);
  t.setAttribute('fill', '#262626');
  if (label.indexOf('^') >= 0) {
    const parts = label.split('^');
    const a = mk('tspan', t); a.textContent = parts[0];
    const b = mk('tspan', t); b.textContent = parts[1];
    b.setAttribute('font-size', Math.round(size*0.68)); b.setAttribute('dy', -size*0.42);
  } else t.textContent = label;
  return t;
}

function drawPlot(p){
  const c = p % 4;
  const L = colX[c], W = colW[c], T = plotTop[p], Hh = (p===28 ? 383 : plotH);
  const X = v => L + W*v/3;
  const Y = lv => T + Hh*(1 - lv/100);
  const g = mk('g', svg);
  
  

  // grid
  const grid = mk('g', g);
  
  
  let dMinor = '';
  const ticks = yTickLevels[p];
  const dec = decadeSpan[p];
  if (dec > 0) {
    const a0 = ticks[0];
    for (let k=-12;k<=12;k++) for (let m=2;m<=9;m++){ const lv = a0 + dec*(k + Math.log10(m)); if (lv>0.3 && lv<99.7) dMinor += `M${L},${Y(lv).toFixed(1)}H${L+W}`; }
  } else {
    for (let i=1;i<ticks.length;i++){ const lv=(ticks[i-1]+ticks[i])/2; dMinor += `M${L},${Y(lv).toFixed(1)}H${L+W}`; }
  }
  const minor = mk('path', grid);
  minor.setAttribute('d', dMinor); minor.setAttribute('stroke', '#d4d4d4'); minor.setAttribute('stroke-width', '1'); minor.setAttribute('stroke-dasharray', '2,2'); minor.setAttribute('fill','none');
  let dMajor = '';
  ticks.forEach(lv => { dMajor += `M${L},${Y(lv).toFixed(1)}H${L+W}`; });
  xTickValues.forEach(v => { dMajor += `M${X(v).toFixed(1)},${T}V${T+Hh}`; });
  const major = mk('path', grid);
  major.setAttribute('d', dMajor); major.setAttribute('stroke', '#dedede'); major.setAttribute('stroke-width', '1.2'); major.setAttribute('fill','none');

  // frame
  const frame = mk('rect', g);
  
  
  frame.setAttribute('x', L); frame.setAttribute('y', T); frame.setAttribute('width', W); frame.setAttribute('height', Hh);
  frame.setAttribute('fill', 'none'); frame.setAttribute('stroke', '#8a8a8a'); frame.setAttribute('stroke-width', '2.5');
  const yaxis = mk('path', g);
  
  
  yaxis.setAttribute('d', `M${L},${T}V${T+Hh}`); yaxis.setAttribute('stroke', '#333'); yaxis.setAttribute('stroke-width', '1.5');

  // title
  const title = labelText(g, L + W/2, T - 10, plotTitles[p], 23, 'middle');
  
  
  title.setAttribute('fill', '#000');

  // y ticks
  ticks.forEach((lv, i) => {
    const t = labelText(g, L - 5, Y(lv) + 6, yTickLabels[p][i], 18, 'end');
    
    
  });
  // x ticks
  xTickValues.forEach((v, i) => {
    const t = labelText(g, X(v), T + Hh + 24, xTickLabels[i], 19, 'middle');
    
    
  });
  const xt = labelText(g, L + W/2, T + Hh + 52, 'FES', 24, 'middle');
  
  
  const xe = labelText(g, L + W - 12, T + Hh + 54, '×10^4', 18, 'middle');
  
  
  const yl = mk('text', g);
  
  
  const yc = T + Hh/2, xc = L - 66;
  yl.setAttribute('x', xc); yl.setAttribute('y', yc);
  yl.setAttribute('transform', `rotate(-90 ${xc} ${yc})`);
  yl.setAttribute('text-anchor', 'middle'); yl.setAttribute('font-family', '"Liberation Serif", serif');
  yl.setAttribute('font-size', '21'); yl.setAttribute('letter-spacing', '1.5'); yl.setAttribute('fill', '#262626');
  yl.textContent = 'Mean Fitness Value';

  // series
  const sg = mk('g', g);
  
  
  curves[p].forEach((str, si) => {
    const pts = parseCurve(str);
    const col = seriesColors[si];
    const line = mk('path', sg);
    
    
    line.setAttribute('d', pts.map((q, i) => (i ? 'L' : 'M') + X(q[0]).toFixed(1) + ',' + Y(q[1]).toFixed(1)).join(''));
    line.setAttribute('fill', 'none'); line.setAttribute('stroke', col);
    line.setAttribute('stroke-width', si === 14 ? '3.2' : '2.2'); line.setAttribute('stroke-linejoin', 'round');
    let dm = '';
    for (let k=0;k<=20;k++){ const xv = k*0.15; dm += markerD(seriesMarkers[si], X(xv), Y(interp(pts, xv)), si===14 ? 7 : 6); }
    const mkr = mk('path', sg);
    
    
    mkr.setAttribute('d', dm);
    mkr.setAttribute('fill', seriesMarkers[si] === 'p' ? col : 'none');
    mkr.setAttribute('stroke', col); mkr.setAttribute('stroke-width', '1.6');
  });
}
for (let p=0;p<plotTitles.length;p++) drawPlot(p);

// ---------- insets ----------
function drawInset(name, box, tickLv, tickLb, xTicks, xmin, xmax, series, markAt){
  const [bx, by, bw, bh] = box;
  const g = mk('g', svg);
  
  
  const X = v => bx + bw*(v - xmin)/(xmax - xmin);
  const Y = lv => by + bh*(1 - lv/100);
  const bg = mk('rect', g);
  bg.setAttribute('x', bx); bg.setAttribute('y', by); bg.setAttribute('width', bw); bg.setAttribute('height', bh);
  bg.setAttribute('fill', '#fff'); bg.setAttribute('stroke', '#777'); bg.setAttribute('stroke-width', '1.5');
  let dg = '';
  tickLv.forEach(lv => { dg += `M${bx},${Y(lv).toFixed(1)}H${bx+bw}`; });
  xTicks.forEach(v => { dg += `M${X(v).toFixed(1)},${by}V${by+bh}`; });
  const gp = mk('path', g);
  gp.setAttribute('d', dg); gp.setAttribute('stroke', '#dcdcdc'); gp.setAttribute('stroke-width', '1');
  series.forEach(sv => {
    const [si, a, b] = sv;
    const ln = mk('path', g);
    
    
    ln.setAttribute('d', `M${bx},${Y(a).toFixed(1)}L${bx+bw},${Y(b).toFixed(1)}`);
    ln.setAttribute('stroke', seriesColors[si]); ln.setAttribute('stroke-width', si===14 ? '3' : '2.2');
    let dm = '';
    markAt.forEach(mx => { const fr = (mx - xmin)/(xmax - xmin); dm += markerD(seriesMarkers[si], X(mx), Y(a + (b-a)*fr), 5); });
    const mm = mk('path', g);
    mm.setAttribute('d', dm); mm.setAttribute('fill', seriesMarkers[si]==='p' ? seriesColors[si] : 'none');
    mm.setAttribute('stroke', seriesColors[si]); mm.setAttribute('stroke-width', '1.4');
  });
  tickLv.forEach((lv, i) => {
    const t = labelText(g, bx - 4, Y(lv) + 5, tickLb[i], 14, 'end');
    
    
  });
  xTicks.forEach(v => {
    const t = labelText(g, X(v), by + bh + 18, String(v), 14, 'middle');
    
    
  });
  const ex = labelText(g, bx + bw - 10, by + bh + 42, '×10^4', 14, 'middle');
  
  
}
drawInset('inset-f17', [2063,1602,240,191], inset17TickLevels, inset17TickLabels, inset17XTicks, 2.2065, 2.3285, inset17Series, [2.25]);
drawInset('inset-f27', [867,3069,218,189], inset27TickLevels, inset27TickLabels, inset27XTicks, 2.3665, 2.6243, inset27Series, [2.4, 2.55]);
drawInset('inset-f29', [2085,3124,227,193], inset29TickLevels, inset29TickLabels, inset29XTicks, 2.8476, 2.9655, inset29Series, [2.85]);

function arrow(name, x1, y1, x2, y2){
  const g = mk('g', svg);
  
  
  const l = mk('line', g);
  l.setAttribute('x1', x1); l.setAttribute('y1', y1); l.setAttribute('x2', x2); l.setAttribute('y2', y2);
  l.setAttribute('stroke', '#222'); l.setAttribute('stroke-width', '1.5');
  const ang = Math.atan2(y2-y1, x2-x1), s = 13;
  const h = mk('path', g);
  h.setAttribute('d', `M${x2},${y2}L${(x2 - s*Math.cos(ang-0.35)).toFixed(1)},${(y2 - s*Math.sin(ang-0.35)).toFixed(1)}L${(x2 - s*Math.cos(ang+0.35)).toFixed(1)},${(y2 - s*Math.sin(ang+0.35)).toFixed(1)}z`);
  h.setAttribute('fill', '#111');
}
arrow('zoom-arrow-f17', 2231, 1793, 2280, 1888);
arrow('zoom-arrow-f27', 1085, 3258, 1151, 3358);
arrow('zoom-arrow-f29', 2312, 3317, 2413, 3383);

// ---------- legend inside F25 ----------
(function(){
  const g = mk('g', svg);
  
  
  const bx = 2315, by = 2529;
  const r = mk('rect', g);
  r.setAttribute('x', bx); r.setAttribute('y', by); r.setAttribute('width', 113); r.setAttribute('height', 289);
  r.setAttribute('fill', '#fff'); r.setAttribute('stroke', '#333'); r.setAttribute('stroke-width', '1.2');
  seriesNames.forEach((nm, i) => {
    const y = by + 12 + i*19;
    const e = mk('g', g);
    
    
    const l = mk('path', e);
    l.setAttribute('d', `M${bx+5},${y}H${bx+47}`); l.setAttribute('stroke', seriesColors[i]); l.setAttribute('stroke-width', '2.5');
    const m = mk('path', e);
    m.setAttribute('d', markerD(seriesMarkers[i], bx+26, y, 5)); m.setAttribute('stroke', seriesColors[i]); m.setAttribute('stroke-width', '1.4');
    m.setAttribute('fill', seriesMarkers[i]==='p' ? seriesColors[i] : 'none');
    const t = mk('text', e);
    t.setAttribute('x', bx+51); t.setAttribute('y', y+5); t.setAttribute('font-family', '"Liberation Sans", sans-serif');
    t.setAttribute('font-size', '15'); t.setAttribute('fill', '#111'); t.textContent = nm;
  });
})();

// ---------- main legend ----------
(function(){
  const g = mk('g', svg);
  
  
  const cx = [982,1253,1475,1734,1952];
  seriesNames.forEach((nm, i) => {
    const col = Math.floor(i/3), row = i % 3;
    const x = cx[col], y = 3670 + row*45;
    const e = mk('g', g);
    
    
    const l = mk('path', e);
    l.setAttribute('d', `M${x},${y}H${x+88}`); l.setAttribute('stroke', seriesColors[i]); l.setAttribute('stroke-width', '5');
    const m = mk('path', e);
    m.setAttribute('d', markerD(seriesMarkers[i], x+44, y, 10)); m.setAttribute('stroke', seriesColors[i]); m.setAttribute('stroke-width', '2.5');
    m.setAttribute('fill', seriesMarkers[i]==='p' ? seriesColors[i] : 'none');
    const t = mk('text', e);
    t.setAttribute('x', x+120); t.setAttribute('y', y+11); t.setAttribute('font-family', '"Liberation Sans", sans-serif');
    t.setAttribute('font-size', '31'); t.setAttribute('fill', '#111'); t.textContent = nm;
  });
})();
</script>
</body></html>
